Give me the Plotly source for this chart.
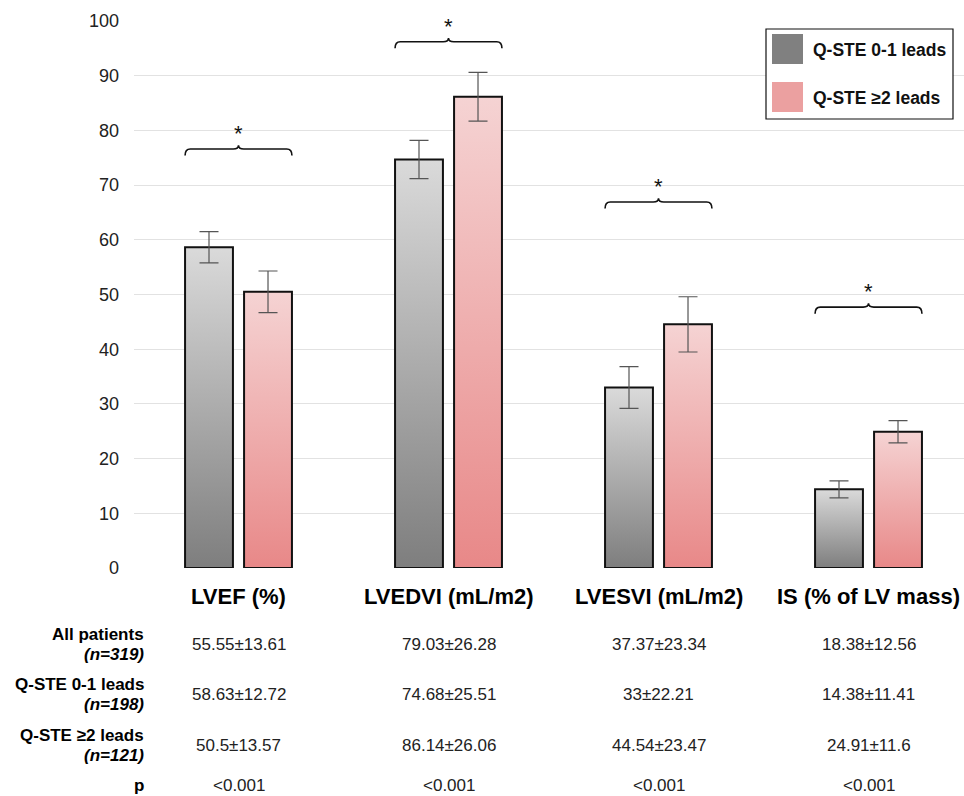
import plotly.graph_objects as go

# ---------------- data ----------------
categories = ["LVEF (%)", "LVEDVI (mL/m2)", "LVESVI (mL/m2)", "IS (% of LV mass)"]
series_names = ["Q-STE 0-1 leads", "Q-STE ≥2 leads"]
low_values = [58.63, 74.68, 33.0, 14.38]
high_values = [50.5, 86.14, 44.54, 24.91]
low_err = [2.85, 3.5, 3.8, 1.55]
high_err = [3.8, 4.45, 5.05, 2.05]
bracket_levels = [76.6, 96.2, 66.9, 47.7]

row_labels = ["All patients", "Q-STE 0-1 leads", "Q-STE ≥2 leads", "p"]
row_sub = ["(n=319)", "(n=198)", "(n=121)", ""]
table_all = ["55.55±13.61", "79.03±26.28", "37.37±23.34", "18.38±12.56"]
table_low = ["58.63±12.72", "74.68±25.51", "33±22.21", "14.38±11.41"]
table_high = ["50.5±13.57", "86.14±26.06", "44.54±23.47", "24.91±11.6"]
table_p = ["<0.001", "<0.001", "<0.001", "<0.001"]
y_ticks = [0, 10, 20, 30, 40, 50, 60, 70, 80, 90, 100]

# ---------------- style ----------------
FONT = "Liberation Sans, Arial, sans-serif"
OFF = 0.1405
BW = 0.228
gray_scale = [[0, "#7e7e7e"], [1, "#dadada"]]
pink_scale = [[0, "#e88888"], [1, "#f5d3d3"]]

# pixel geometry (screen coords); page body margin removed via post_script
W, H = 964, 796
PLOT_L, PLOT_R, PLOT_T, PLOT_B = 134, 964, 21, 568
XMIN = (PLOT_L - 238.5) / 210
XMAX = (PLOT_R - 238.5) / 210


def pxp(px):
    return (px - PLOT_L) / (PLOT_R - PLOT_L)


def pyp(py):
    return (PLOT_B - py) / (PLOT_B - PLOT_T)


fig = go.Figure()

groups = [(low_values, low_err, -OFF, gray_scale), (high_values, high_err, OFF, pink_scale)]
for vals, errs, off, scale in groups:
    for i, v in enumerate(vals):
        xc = i + off
        xs = [xc - BW / 2, xc + BW / 2, xc + BW / 2, xc - BW / 2, xc - BW / 2]
        ys = [0, 0, v, v, 0]
        fig.add_trace(go.Scatter(
            x=xs, y=ys, mode="lines", fill="toself",
            fillgradient=dict(type="vertical", colorscale=scale),
            line=dict(color="#111111", width=2),
            showlegend=False, hoverinfo="skip"))
    fig.add_trace(go.Scatter(
        x=[i + off for i in range(len(vals))], y=vals, mode="markers",
        marker=dict(size=1, color="rgba(0,0,0,0)"),
        error_y=dict(type="data", array=errs, visible=True,
                     color="#555555", thickness=1.2, width=9.5),
        showlegend=False, hoverinfo="skip"))

shapes = []
annotations = []
# significance brackets
for i, lvl in enumerate(bracket_levels):
    x0 = i - OFF - BW / 2
    x1 = i + OFF + BW / 2
    dx = 0.025
    dy = 1.2
    path = (f"M {x0},{lvl - dy} Q {x0},{lvl} {x0 + dx},{lvl} "
            f"L {i - dx},{lvl} Q {i},{lvl} {i},{lvl + 0.7} "
            f"Q {i},{lvl} {i + dx},{lvl} "
            f"L {x1 - dx},{lvl} Q {x1},{lvl} {x1},{lvl - dy}")
    shapes.append(dict(type="path", path=path, xref="x", yref="y",
                       line=dict(color="#111111", width=1.6)))
    annotations.append(dict(x=i, y=lvl + 0.2, xref="x", yref="y", text="*",
                            showarrow=False, xanchor="center", yanchor="bottom",
                            font=dict(family=FONT, size=22, color="#111111")))


def gx(i):
    return pxp(238.5 + 210 * i)


# category labels
for i, c in enumerate(categories):
    annotations.append(dict(x=gx(i), y=pyp(596), xref="paper", yref="paper",
                            text=f"<b>{c}</b>", showarrow=False,
                            xanchor="center", yanchor="middle",
                            font=dict(family=FONT, size=22, color="#000000")))

# table
row_y = [644, 694, 745, 785]
cols = [table_all, table_low, table_high, table_p]
for r, (lab, sub) in enumerate(zip(row_labels, row_sub)):
    lines = [(f"<b>{lab}</b>", row_y[r] - 10), (f"<b><i>{sub}</i></b>", row_y[r] + 10)] if sub \
        else [(f"<b>{lab}</b>", row_y[r])]
    for txt, yy in lines:
        annotations.append(dict(x=pxp(146), y=pyp(yy), xref="paper", yref="paper",
                                text=txt, xanchor="right", yanchor="middle", showarrow=False,
                                font=dict(family=FONT, size=17, color="#000000")))
    for i, txt in enumerate(cols[r]):
        annotations.append(dict(x=gx(i), y=pyp(row_y[r]), xref="paper", yref="paper",
                                text=txt, showarrow=False, xanchor="center", yanchor="middle",
                                font=dict(family=FONT, size=17, color="#222222")))

# manual legend
shapes.append(dict(type="rect", xref="paper", yref="paper",
                   x0=pxp(766), x1=pxp(953), y0=pyp(119), y1=pyp(29),
                   line=dict(color="#111111", width=1.2), fillcolor="white"))
legend_cols = ["#808080", "#eba0a0"]
legend_y = [49, 97]
for name, col, ly in zip(series_names, legend_cols, legend_y):
    shapes.append(dict(type="rect", xref="paper", yref="paper",
                       x0=pxp(772), x1=pxp(803), y0=pyp(ly + 15), y1=pyp(ly - 15),
                       line=dict(width=0), fillcolor=col))
    annotations.append(dict(x=pxp(811), y=pyp(ly + 1), xref="paper", yref="paper",
                            text=f"<b>{name}</b>", xanchor="left", yanchor="middle",
                            showarrow=False,
                            font=dict(family=FONT, size=17.5, color="#111111")))

fig.update_layout(
    width=W, height=H,
    margin=dict(l=PLOT_L, r=W - PLOT_R, t=PLOT_T, b=H - PLOT_B),
    paper_bgcolor="white", plot_bgcolor="white",
    showlegend=False,
    shapes=shapes, annotations=annotations,
    xaxis=dict(range=[XMIN, XMAX], showgrid=False, zeroline=False,
               showticklabels=False, showline=False, fixedrange=True),
    yaxis=dict(range=[0, 100], tickvals=y_ticks, showgrid=True,
               gridcolor="#e2e2e2", gridwidth=1.3, zeroline=False, showline=False,
               ticks="", ticklabelstandoff=14,
               tickfont=dict(family=FONT, size=18, color="#222222")),
)

fig.write_html(
    "out.html",
    config={"displayModeBar": False},
    post_script="document.body.style.margin='0';document.body.style.overflow='hidden';",
)
